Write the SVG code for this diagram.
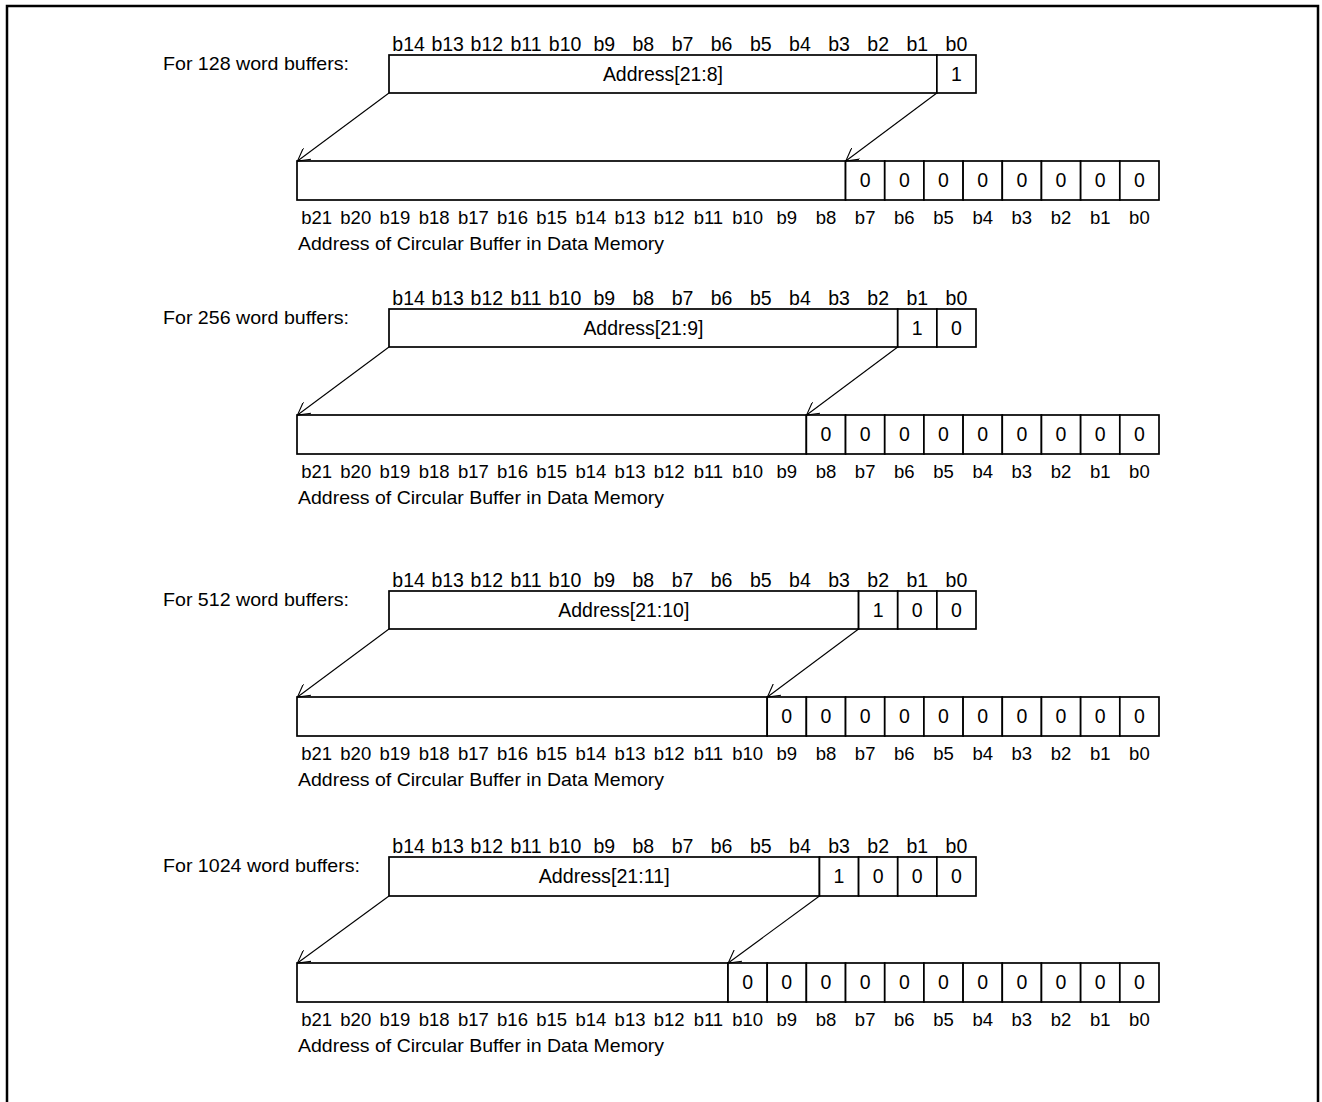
<svg xmlns="http://www.w3.org/2000/svg" width="1322" height="1102" viewBox="0 0 1322 1102">
<style>
text{font-family:"Liberation Sans",Arial,sans-serif;font-size:18.5px;fill:#000}
.m{text-anchor:middle;font-size:19.5px}
.lo{text-anchor:middle;font-size:18.5px}
.box{fill:#fff;stroke:#000;stroke-width:1.7}
.con{stroke:#000;stroke-width:1.1;fill:none;marker-end:url(#ah)}
</style>
<defs>
<marker id="ah" markerUnits="userSpaceOnUse" viewBox="0 0 13 14" refX="12.5" refY="7" markerWidth="13" markerHeight="14" orient="auto">
<path d="M0,0 L12.5,7 L0,14" fill="none" stroke="#000" stroke-width="1.1"/>
</marker>
</defs>
<rect x="7" y="6" width="1311" height="1110" fill="#fff" stroke="#000" stroke-width="2.5"/>

<!-- Section 1 -->
<g id="sec128">
<text x="163" y="70" textLength="186" lengthAdjust="spacingAndGlyphs">For 128 word buffers:</text>
<text class="m" y="51"><tspan x="408.57">b14</tspan><tspan x="447.70">b13</tspan><tspan x="486.83">b12</tspan><tspan x="525.97">b11</tspan><tspan x="565.10">b10</tspan><tspan x="604.23">b9</tspan><tspan x="643.37">b8</tspan><tspan x="682.50">b7</tspan><tspan x="721.63">b6</tspan><tspan x="760.77">b5</tspan><tspan x="799.90">b4</tspan><tspan x="839.03">b3</tspan><tspan x="878.17">b2</tspan><tspan x="917.30">b1</tspan><tspan x="956.43">b0</tspan></text>
<g id="up128">
<rect class="box" x="389" y="55" width="547.87" height="38"/>
<rect class="box" x="936.87" y="55" width="39.13" height="38"/>
<text class="m" x="662.9" y="81" textLength="120" lengthAdjust="spacingAndGlyphs">Address[21:8]</text>
<text class="m" x="956.43" y="81">1</text>
</g>
<g id="low128">
<rect class="box" x="297" y="161" width="548.55" height="39"/>
<rect class="box" x="845.55" y="161" width="39.18" height="39"/>
<rect class="box" x="884.73" y="161" width="39.18" height="39"/>
<rect class="box" x="923.91" y="161" width="39.18" height="39"/>
<rect class="box" x="963.09" y="161" width="39.18" height="39"/>
<rect class="box" x="1002.27" y="161" width="39.18" height="39"/>
<rect class="box" x="1041.45" y="161" width="39.18" height="39"/>
<rect class="box" x="1080.64" y="161" width="39.18" height="39"/>
<rect class="box" x="1119.82" y="161" width="39.18" height="39"/>
<text class="m" y="187"><tspan x="865.14">0</tspan><tspan x="904.32">0</tspan><tspan x="943.50">0</tspan><tspan x="982.68">0</tspan><tspan x="1021.86">0</tspan><tspan x="1061.05">0</tspan><tspan x="1100.23">0</tspan><tspan x="1139.41">0</tspan></text>
</g>
<text class="lo" y="224"><tspan x="316.59">b21</tspan><tspan x="355.77">b20</tspan><tspan x="394.95">b19</tspan><tspan x="434.14">b18</tspan><tspan x="473.32">b17</tspan><tspan x="512.50">b16</tspan><tspan x="551.68">b15</tspan><tspan x="590.86">b14</tspan><tspan x="630.05">b13</tspan><tspan x="669.23">b12</tspan><tspan x="708.41">b11</tspan><tspan x="747.59">b10</tspan><tspan x="786.77">b9</tspan><tspan x="825.95">b8</tspan><tspan x="865.14">b7</tspan><tspan x="904.32">b6</tspan><tspan x="943.50">b5</tspan><tspan x="982.68">b4</tspan><tspan x="1021.86">b3</tspan><tspan x="1061.05">b2</tspan><tspan x="1100.23">b1</tspan><tspan x="1139.41">b0</tspan></text>
<text x="298" y="250" textLength="366" lengthAdjust="spacingAndGlyphs">Address of Circular Buffer in Data Memory</text>
</g>

<!-- Section 2 -->
<g id="sec256">
<text x="163" y="324" textLength="186" lengthAdjust="spacingAndGlyphs">For 256 word buffers:</text>
<text class="m" y="305"><tspan x="408.57">b14</tspan><tspan x="447.70">b13</tspan><tspan x="486.83">b12</tspan><tspan x="525.97">b11</tspan><tspan x="565.10">b10</tspan><tspan x="604.23">b9</tspan><tspan x="643.37">b8</tspan><tspan x="682.50">b7</tspan><tspan x="721.63">b6</tspan><tspan x="760.77">b5</tspan><tspan x="799.90">b4</tspan><tspan x="839.03">b3</tspan><tspan x="878.17">b2</tspan><tspan x="917.30">b1</tspan><tspan x="956.43">b0</tspan></text>
<g id="up256">
<rect class="box" x="389" y="309" width="508.73" height="38"/>
<rect class="box" x="897.73" y="309" width="39.14" height="38"/>
<rect class="box" x="936.87" y="309" width="39.13" height="38"/>
<text class="m" x="643.4" y="335" textLength="120" lengthAdjust="spacingAndGlyphs">Address[21:9]</text>
<text class="m" y="335"><tspan x="917.30">1</tspan><tspan x="956.43">0</tspan></text>
</g>
<g id="low256">
<rect class="box" x="297" y="415" width="509.36" height="39"/>
<rect class="box" x="806.36" y="415" width="39.19" height="39"/>
<rect class="box" x="845.55" y="415" width="39.18" height="39"/>
<rect class="box" x="884.73" y="415" width="39.18" height="39"/>
<rect class="box" x="923.91" y="415" width="39.18" height="39"/>
<rect class="box" x="963.09" y="415" width="39.18" height="39"/>
<rect class="box" x="1002.27" y="415" width="39.18" height="39"/>
<rect class="box" x="1041.45" y="415" width="39.18" height="39"/>
<rect class="box" x="1080.64" y="415" width="39.18" height="39"/>
<rect class="box" x="1119.82" y="415" width="39.18" height="39"/>
<text class="m" y="441"><tspan x="825.95">0</tspan><tspan x="865.14">0</tspan><tspan x="904.32">0</tspan><tspan x="943.50">0</tspan><tspan x="982.68">0</tspan><tspan x="1021.86">0</tspan><tspan x="1061.05">0</tspan><tspan x="1100.23">0</tspan><tspan x="1139.41">0</tspan></text>
</g>
<text class="lo" y="478"><tspan x="316.59">b21</tspan><tspan x="355.77">b20</tspan><tspan x="394.95">b19</tspan><tspan x="434.14">b18</tspan><tspan x="473.32">b17</tspan><tspan x="512.50">b16</tspan><tspan x="551.68">b15</tspan><tspan x="590.86">b14</tspan><tspan x="630.05">b13</tspan><tspan x="669.23">b12</tspan><tspan x="708.41">b11</tspan><tspan x="747.59">b10</tspan><tspan x="786.77">b9</tspan><tspan x="825.95">b8</tspan><tspan x="865.14">b7</tspan><tspan x="904.32">b6</tspan><tspan x="943.50">b5</tspan><tspan x="982.68">b4</tspan><tspan x="1021.86">b3</tspan><tspan x="1061.05">b2</tspan><tspan x="1100.23">b1</tspan><tspan x="1139.41">b0</tspan></text>
<text x="298" y="504" textLength="366" lengthAdjust="spacingAndGlyphs">Address of Circular Buffer in Data Memory</text>
</g>

<!-- Section 3 -->
<g id="sec512">
<text x="163" y="606" textLength="186" lengthAdjust="spacingAndGlyphs">For 512 word buffers:</text>
<text class="m" y="587"><tspan x="408.57">b14</tspan><tspan x="447.70">b13</tspan><tspan x="486.83">b12</tspan><tspan x="525.97">b11</tspan><tspan x="565.10">b10</tspan><tspan x="604.23">b9</tspan><tspan x="643.37">b8</tspan><tspan x="682.50">b7</tspan><tspan x="721.63">b6</tspan><tspan x="760.77">b5</tspan><tspan x="799.90">b4</tspan><tspan x="839.03">b3</tspan><tspan x="878.17">b2</tspan><tspan x="917.30">b1</tspan><tspan x="956.43">b0</tspan></text>
<g id="up512">
<rect class="box" x="389" y="591" width="469.6" height="38"/>
<rect class="box" x="858.6" y="591" width="39.13" height="38"/>
<rect class="box" x="897.73" y="591" width="39.14" height="38"/>
<rect class="box" x="936.87" y="591" width="39.13" height="38"/>
<text class="m" x="623.8" y="617" textLength="131" lengthAdjust="spacingAndGlyphs">Address[21:10]</text>
<text class="m" y="617"><tspan x="878.17">1</tspan><tspan x="917.30">0</tspan><tspan x="956.43">0</tspan></text>
</g>
<g id="low512">
<rect class="box" x="297" y="697" width="470.18" height="39"/>
<rect class="box" x="767.18" y="697" width="39.18" height="39"/>
<rect class="box" x="806.36" y="697" width="39.19" height="39"/>
<rect class="box" x="845.55" y="697" width="39.18" height="39"/>
<rect class="box" x="884.73" y="697" width="39.18" height="39"/>
<rect class="box" x="923.91" y="697" width="39.18" height="39"/>
<rect class="box" x="963.09" y="697" width="39.18" height="39"/>
<rect class="box" x="1002.27" y="697" width="39.18" height="39"/>
<rect class="box" x="1041.45" y="697" width="39.18" height="39"/>
<rect class="box" x="1080.64" y="697" width="39.18" height="39"/>
<rect class="box" x="1119.82" y="697" width="39.18" height="39"/>
<text class="m" y="723"><tspan x="786.77">0</tspan><tspan x="825.95">0</tspan><tspan x="865.14">0</tspan><tspan x="904.32">0</tspan><tspan x="943.50">0</tspan><tspan x="982.68">0</tspan><tspan x="1021.86">0</tspan><tspan x="1061.05">0</tspan><tspan x="1100.23">0</tspan><tspan x="1139.41">0</tspan></text>
</g>
<text class="lo" y="760"><tspan x="316.59">b21</tspan><tspan x="355.77">b20</tspan><tspan x="394.95">b19</tspan><tspan x="434.14">b18</tspan><tspan x="473.32">b17</tspan><tspan x="512.50">b16</tspan><tspan x="551.68">b15</tspan><tspan x="590.86">b14</tspan><tspan x="630.05">b13</tspan><tspan x="669.23">b12</tspan><tspan x="708.41">b11</tspan><tspan x="747.59">b10</tspan><tspan x="786.77">b9</tspan><tspan x="825.95">b8</tspan><tspan x="865.14">b7</tspan><tspan x="904.32">b6</tspan><tspan x="943.50">b5</tspan><tspan x="982.68">b4</tspan><tspan x="1021.86">b3</tspan><tspan x="1061.05">b2</tspan><tspan x="1100.23">b1</tspan><tspan x="1139.41">b0</tspan></text>
<text x="298" y="786" textLength="366" lengthAdjust="spacingAndGlyphs">Address of Circular Buffer in Data Memory</text>
</g>

<!-- Section 4 -->
<g id="sec1024">
<text x="163" y="872" textLength="197" lengthAdjust="spacingAndGlyphs">For 1024 word buffers:</text>
<text class="m" y="853"><tspan x="408.57">b14</tspan><tspan x="447.70">b13</tspan><tspan x="486.83">b12</tspan><tspan x="525.97">b11</tspan><tspan x="565.10">b10</tspan><tspan x="604.23">b9</tspan><tspan x="643.37">b8</tspan><tspan x="682.50">b7</tspan><tspan x="721.63">b6</tspan><tspan x="760.77">b5</tspan><tspan x="799.90">b4</tspan><tspan x="839.03">b3</tspan><tspan x="878.17">b2</tspan><tspan x="917.30">b1</tspan><tspan x="956.43">b0</tspan></text>
<g id="up1024">
<rect class="box" x="389" y="857" width="430.47" height="39"/>
<rect class="box" x="819.47" y="857" width="39.13" height="39"/>
<rect class="box" x="858.6" y="857" width="39.13" height="39"/>
<rect class="box" x="897.73" y="857" width="39.14" height="39"/>
<rect class="box" x="936.87" y="857" width="39.13" height="39"/>
<text class="m" x="604.2" y="883" textLength="131" lengthAdjust="spacingAndGlyphs">Address[21:11]</text>
<text class="m" y="883"><tspan x="839.03">1</tspan><tspan x="878.17">0</tspan><tspan x="917.30">0</tspan><tspan x="956.43">0</tspan></text>
</g>
<g id="low1024">
<rect class="box" x="297" y="963" width="431" height="39"/>
<rect class="box" x="728" y="963" width="39.18" height="39"/>
<rect class="box" x="767.18" y="963" width="39.18" height="39"/>
<rect class="box" x="806.36" y="963" width="39.19" height="39"/>
<rect class="box" x="845.55" y="963" width="39.18" height="39"/>
<rect class="box" x="884.73" y="963" width="39.18" height="39"/>
<rect class="box" x="923.91" y="963" width="39.18" height="39"/>
<rect class="box" x="963.09" y="963" width="39.18" height="39"/>
<rect class="box" x="1002.27" y="963" width="39.18" height="39"/>
<rect class="box" x="1041.45" y="963" width="39.18" height="39"/>
<rect class="box" x="1080.64" y="963" width="39.18" height="39"/>
<rect class="box" x="1119.82" y="963" width="39.18" height="39"/>
<text class="m" y="989"><tspan x="747.59">0</tspan><tspan x="786.77">0</tspan><tspan x="825.95">0</tspan><tspan x="865.14">0</tspan><tspan x="904.32">0</tspan><tspan x="943.50">0</tspan><tspan x="982.68">0</tspan><tspan x="1021.86">0</tspan><tspan x="1061.05">0</tspan><tspan x="1100.23">0</tspan><tspan x="1139.41">0</tspan></text>
</g>
<text class="lo" y="1026"><tspan x="316.59">b21</tspan><tspan x="355.77">b20</tspan><tspan x="394.95">b19</tspan><tspan x="434.14">b18</tspan><tspan x="473.32">b17</tspan><tspan x="512.50">b16</tspan><tspan x="551.68">b15</tspan><tspan x="590.86">b14</tspan><tspan x="630.05">b13</tspan><tspan x="669.23">b12</tspan><tspan x="708.41">b11</tspan><tspan x="747.59">b10</tspan><tspan x="786.77">b9</tspan><tspan x="825.95">b8</tspan><tspan x="865.14">b7</tspan><tspan x="904.32">b6</tspan><tspan x="943.50">b5</tspan><tspan x="982.68">b4</tspan><tspan x="1021.86">b3</tspan><tspan x="1061.05">b2</tspan><tspan x="1100.23">b1</tspan><tspan x="1139.41">b0</tspan></text>
<text x="298" y="1052" textLength="366" lengthAdjust="spacingAndGlyphs">Address of Circular Buffer in Data Memory</text>
</g>

<g id="connectors">
<line class="con" x1="389" y1="93" x2="297.5" y2="161"/>
<line class="con" x1="936.87" y1="93" x2="845.8" y2="161"/>
<line class="con" x1="389" y1="347" x2="297.5" y2="415"/>
<line class="con" x1="897.73" y1="347" x2="806.6" y2="415"/>
<line class="con" x1="389" y1="629" x2="297.5" y2="697"/>
<line class="con" x1="858.6" y1="629" x2="767.4" y2="697"/>
<line class="con" x1="389" y1="896" x2="297.5" y2="963"/>
<line class="con" x1="819.47" y1="896" x2="728.2" y2="963"/>
</g>
</svg>
